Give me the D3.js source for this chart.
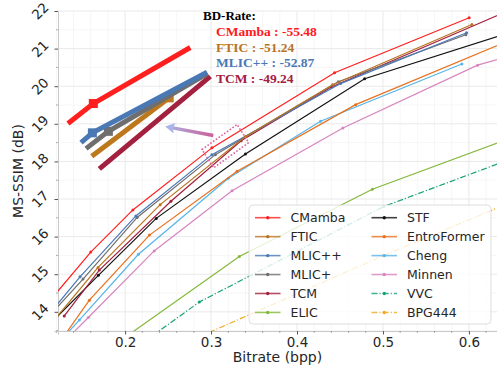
<!DOCTYPE html>
<html>
<head>
<meta charset="utf-8">
<script src="https://cdn.jsdelivr.net/npm/d3@7"></script>
<style>
  html, body { margin: 0; padding: 0; background: #fff; }
  svg { display: block; }
</style>
</head>
<body>
<div id="chart"></div>
<script>
// Tick values
const xTicks = [0.2, 0.3, 0.4, 0.5, 0.6];
const yTicks = [14, 15, 16, 17, 18, 19, 20, 21, 22];

// Rate-distortion points: [bitrate (bpp), MS-SSIM (dB)]
const cmamba = [[0.11, 14.23], [0.160, 15.59], [0.209, 16.71], [0.301, 18.36], [0.4437, 20.36], [0.6003, 21.82]];
const ftic = [[0.12, 13.85], [0.1685, 15.18], [0.2408, 16.85], [0.34, 18.66], [0.4414, 20.04], [0.6035, 21.64]];
const mlicpp = [[0.11, 13.89], [0.1475, 14.93], [0.2125, 16.55], [0.301, 18.18], [0.4507, 20.07], [0.5973, 21.42]];
const mlicp = [[0.112, 13.9], [0.151, 14.87], [0.214, 16.51], [0.305, 18.18], [0.448, 20.12], [0.5965, 21.37]];
const tcm = [[0.1292, 13.89], [0.170, 15.11], [0.2533, 16.94], [0.335, 18.55], [0.44, 19.98], [0.64, 21.95]];
const elic = [[0.19, 13.16], [0.3329, 15.47], [0.4877, 17.26], [0.66, 18.72]];
const stf = [[0.118, 13.8], [0.1689, 14.97], [0.2362, 16.485], [0.34, 18.2], [0.4787, 20.2], [0.66, 21.52]];
const entroformer = [[0.125, 13.23], [0.1584, 14.31], [0.2283, 16.04], [0.3303, 17.74], [0.4682, 19.51], [0.66, 21.34]];
const cheng = [[0.125, 13.24], [0.1467, 13.78], [0.2155, 15.53], [0.3201, 17.55], [0.4274, 19.07], [0.5918, 20.59]];
const minnen = [[0.125, 13.11], [0.1572, 13.85], [0.2338, 15.62], [0.3244, 17.22], [0.4534, 18.89], [0.6101, 20.56], [0.66, 20.88]];
const vvc = [[0.2, 12.84], [0.2863, 14.26], [0.5009, 16.80], [0.66, 18.16]];
const bpg444 = [[0.25, 12.97], [0.5, 15.49], [0.66, 17.02]];

const series = [
  { name: 'CMamba', data: cmamba, color: '#ff1f1f' },
  { name: 'FTIC', data: ftic, color: '#b8741f' },
  { name: 'MLIC++', data: mlicpp, color: '#4a78b4' },
  { name: 'MLIC+', data: mlicp, color: '#6e6e6e' },
  { name: 'TCM', data: tcm, color: '#a3203f' },
  { name: 'ELIC', data: elic, color: '#84b83c' },
  { name: 'STF', data: stf, color: '#111111' },
  { name: 'EntroFormer', data: entroformer, color: '#e8701c' },
  { name: 'Cheng', data: cheng, color: '#56b4e9' },
  { name: 'Minnen', data: minnen, color: '#d884bf' },
  { name: 'VVC', data: vvc, color: '#13a077', dash: '6,2,1.2,2' },
  { name: 'BPG444', data: bpg444, color: '#f2a81d', dash: '6,2,1.2,2' },
];

// Zoomed inset (drawn in the same data units), marker index per line
const insetCMamba = [[0.1335, 19.01], [0.163, 19.54], [0.2758, 21.03]];
const insetMlicpp = [[0.1487, 18.50], [0.1619, 18.76], [0.2953, 20.37]];
const insetMlicp = [[0.1545, 18.34], [0.1805, 18.80], [0.296, 20.34]];
const insetFtic = [[0.1612, 18.14], [0.2513, 19.69]];
const insetTcm = [[0.17, 17.80], [0.2991, 20.26]];
const insetLines = [
  { data: insetTcm, color: '#a3203f', mark: -1 },
  { data: insetFtic, color: '#bd781c', mark: 1 },
  { data: insetMlicp, color: '#6e6e6e', mark: 1 },
  { data: insetMlicpp, color: '#4a78b4', mark: 1 },
  { data: insetCMamba, color: '#ff1f1f', mark: 1 },
];
const bdRates = [
  { label: 'CMamba : -55.48', color: '#ff1a1a' },
  { label: 'FTIC : -51.24', color: '#b8741f' },
  { label: 'MLIC++ : -52.87', color: '#4a78b4' },
  { label: 'TCM : -49.24', color: '#a3203f' },
];
const zoomBox = [[0.2894, 18.317], [0.3303, 18.98], [0.3438, 18.50], [0.303, 17.83]];
const arrowFromTo = [[0.3026, 18.69], [0.2466, 18.93]];

const width = 497;
const height = 371;
const plot = { left: 58, right: 497, top: 11, bottom: 331 };

const x = d3.scaleLinear().domain([0.1219, 0.6327]).range([plot.left, plot.right]);
const y = d3.scaleLinear().domain([13.49, 22.0]).range([plot.bottom, plot.top]);

const font = "'DejaVu Sans', sans-serif";
const textColor = '#262626';

const svg = d3.select('#chart').append('svg')
  .attr('width', width)
  .attr('height', height)
  .attr('font-family', font);

svg.append('defs').append('clipPath').attr('id', 'plot-clip')
  .append('rect')
  .attr('x', plot.left).attr('y', plot.top)
  .attr('width', plot.right - plot.left).attr('height', plot.bottom - plot.top);

/* Grid: minor then major */
const xMinor = d3.range(0.12, 0.64, 0.02).filter((v) => Math.abs(Math.round(v * 10) - v * 10) > 1e-6);
const yMinor = d3.range(13.5, 22.01, 1);

const grid = svg.append('g');
grid.selectAll('line.xminor').data(xMinor).join('line')
  .attr('x1', (d) => x(d)).attr('x2', (d) => x(d))
  .attr('y1', plot.top).attr('y2', plot.bottom)
  .attr('stroke', '#f4f4f4').attr('stroke-width', 0.8);
grid.selectAll('line.yminor').data(yMinor).join('line')
  .attr('y1', (d) => y(d)).attr('y2', (d) => y(d))
  .attr('x1', plot.left).attr('x2', plot.right)
  .attr('stroke', '#f4f4f4').attr('stroke-width', 0.8);
grid.selectAll('line.xmajor').data(xTicks).join('line')
  .attr('x1', (d) => x(d)).attr('x2', (d) => x(d))
  .attr('y1', plot.top).attr('y2', plot.bottom)
  .attr('stroke', '#e9e9e9').attr('stroke-width', 1);
grid.selectAll('line.ymajor').data(yTicks).join('line')
  .attr('y1', (d) => y(d)).attr('y2', (d) => y(d))
  .attr('x1', plot.left).attr('x2', plot.right)
  .attr('stroke', '#e9e9e9').attr('stroke-width', 1);

/* Axes */
const xAxis = svg.append('g')
  .attr('transform', `translate(0,${plot.bottom})`)
  .call(d3.axisBottom(x).tickValues(xTicks).tickSize(3.5).tickPadding(3).tickFormat(d3.format('.1f')));
xAxis.select('.domain').attr('stroke', '#c8c8c8');
xAxis.selectAll('line').attr('stroke', '#555');
xAxis.selectAll('text').attr('font-size', 13.5).attr('fill', textColor).attr('font-family', font);

svg.append('g').selectAll('line').data(xMinor).join('line')
  .attr('x1', (d) => x(d)).attr('x2', (d) => x(d))
  .attr('y1', plot.bottom).attr('y2', plot.bottom + 2)
  .attr('stroke', '#777').attr('stroke-width', 0.6);

const yAxis = svg.append('g')
  .attr('transform', `translate(${plot.left},0)`)
  .call(d3.axisLeft(y).tickValues(yTicks).tickSize(3.5).tickFormat(''));
yAxis.select('.domain').attr('stroke', '#c8c8c8');
yAxis.selectAll('line').attr('stroke', '#555');

svg.append('g').selectAll('line').data(yMinor).join('line')
  .attr('y1', (d) => y(d)).attr('y2', (d) => y(d))
  .attr('x1', plot.left - 2).attr('x2', plot.left)
  .attr('stroke', '#777').attr('stroke-width', 0.6);

svg.append('g').selectAll('text').data(yTicks).join('text')
  .attr('transform', (d) => `translate(40,${y(d)}) rotate(-45)`)
  .attr('text-anchor', 'middle')
  .attr('dominant-baseline', 'central')
  .attr('font-size', 13.5)
  .attr('fill', textColor)
  .text((d) => d);

svg.append('text')
  .attr('x', (plot.left + plot.right) / 2)
  .attr('y', 362)
  .attr('text-anchor', 'middle')
  .attr('font-size', 14)
  .attr('fill', textColor)
  .text('Bitrate (bpp)');

svg.append('text')
  .attr('transform', `translate(23,${(plot.top + plot.bottom) / 2}) rotate(-90)`)
  .attr('text-anchor', 'middle')
  .attr('font-size', 14)
  .attr('fill', textColor)
  .text('MS-SSIM (dB)');

/* Series */
const line = d3.line().x((d) => x(d[0])).y((d) => y(d[1]));
const plotG = svg.append('g').attr('clip-path', 'url(#plot-clip)');

series.slice().reverse().forEach((s) => {
  plotG.append('path')
    .datum(s.data)
    .attr('fill', 'none')
    .attr('stroke', s.color)
    .attr('stroke-width', 1.2)
    .attr('stroke-dasharray', s.dash || null)
    .attr('d', line);
  plotG.selectAll(null).data(s.data).join('circle')
    .attr('cx', (d) => x(d[0]))
    .attr('cy', (d) => y(d[1]))
    .attr('r', 1.5)
    .attr('fill', s.color);
});

/* Inset: thick zoomed lines */
const insetG = svg.append('g');
insetLines.forEach((s) => {
  insetG.append('path')
    .datum(s.data)
    .attr('fill', 'none')
    .attr('stroke', s.color)
    .attr('stroke-width', 5)
    .attr('d', line);
  if (s.mark >= 0) {
    const p = s.data[s.mark];
    insetG.append('rect')
      .attr('x', x(p[0]) - 4.5).attr('y', y(p[1]) - 4.5)
      .attr('width', 9).attr('height', 9)
      .attr('fill', s.color);
  }
});

/* Dotted zoom box */
svg.append('path')
  .datum(zoomBox)
  .attr('fill', 'none')
  .attr('stroke', '#e0609c')
  .attr('stroke-width', 1.6)
  .attr('stroke-dasharray', '1.6,1.8')
  .attr('d', d3.line().x((d) => x(d[0])).y((d) => y(d[1])).curve(d3.curveLinearClosed));

/* Gradient arrow pointing to the inset */
const [tail, head] = arrowFromTo.map((p) => [x(p[0]), y(p[1])]);
const grad = svg.select('defs').append('linearGradient')
  .attr('id', 'arrow-grad')
  .attr('gradientUnits', 'userSpaceOnUse')
  .attr('x1', tail[0]).attr('y1', tail[1])
  .attr('x2', head[0]).attr('y2', head[1]);
grad.append('stop').attr('offset', '0%').attr('stop-color', '#cc5f98');
grad.append('stop').attr('offset', '100%').attr('stop-color', '#aab4e6');

const ang = Math.atan2(head[1] - tail[1], head[0] - tail[0]);
const headLen = 11;
const shaftEnd = [head[0] - Math.cos(ang) * headLen * 0.7, head[1] - Math.sin(ang) * headLen * 0.7];
svg.append('line')
  .attr('x1', tail[0]).attr('y1', tail[1])
  .attr('x2', shaftEnd[0]).attr('y2', shaftEnd[1])
  .attr('stroke', 'url(#arrow-grad)')
  .attr('stroke-width', 3.5);
const wing = 0.5;
const hp = [
  head,
  [head[0] - Math.cos(ang - wing) * headLen, head[1] - Math.sin(ang - wing) * headLen],
  shaftEnd,
  [head[0] - Math.cos(ang + wing) * headLen, head[1] - Math.sin(ang + wing) * headLen],
];
svg.append('path')
  .attr('d', 'M' + hp.map((p) => p.join(',')).join('L') + 'Z')
  .attr('fill', '#aab4e6');

/* BD-Rate text */
const serif = "'Liberation Serif', 'Times New Roman', serif";
svg.append('text')
  .attr('x', 203).attr('y', 20)
  .attr('font-family', serif).attr('font-weight', 700).attr('font-size', 13)
  .attr('fill', '#000')
  .text('BD-Rate:');
svg.append('g').selectAll('text').data(bdRates).join('text')
  .attr('x', 216)
  .attr('y', (d, i) => 36 + i * 15.5)
  .attr('font-family', serif).attr('font-weight', 700).attr('font-size', 13.5)
  .attr('fill', (d) => d.color)
  .text((d) => d.label);

/* Legend */
const legend = svg.append('g').attr('transform', 'translate(249,205)');
legend.append('rect')
  .attr('width', 242).attr('height', 119).attr('rx', 4)
  .attr('fill', '#fff').attr('fill-opacity', 0.8)
  .attr('stroke', '#d6d6d6').attr('stroke-width', 0.8);

legend.selectAll('g.item').data(series).join('g')
  .attr('class', 'item')
  .attr('transform', (d, i) => `translate(${i < 6 ? 6 : 122.5},${12.7 + (i % 6) * 18.95})`)
  .each(function (d) {
    const g = d3.select(this);
    g.append('line')
      .attr('x1', 0).attr('x2', 25.5)
      .attr('stroke', d.color).attr('stroke-width', 1.6)
      .attr('stroke-opacity', 0.8)
      .attr('stroke-dasharray', d.dash || null);
    g.append('circle').attr('cx', 12.75).attr('r', 1.7).attr('fill', d.color);
    g.append('text')
      .attr('x', 35.5).attr('y', 0)
      .attr('dominant-baseline', 'central')
      .attr('font-size', 12.5)
      .attr('fill', textColor)
      .text(d.name);
  });
</script>
</body>
</html>
